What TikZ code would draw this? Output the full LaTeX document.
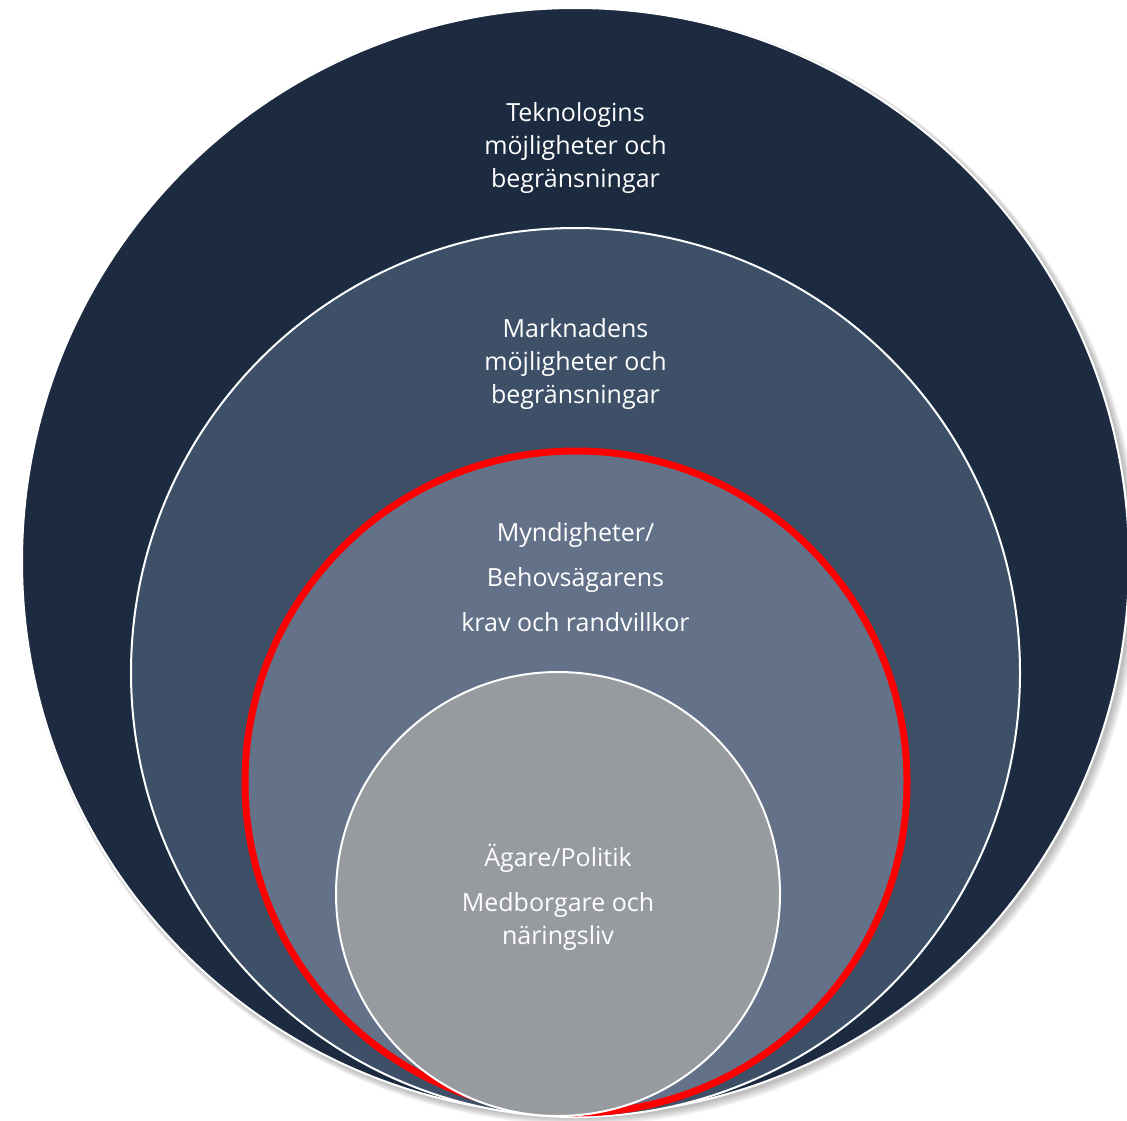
\documentclass[tikz,border=0pt]{standalone}
\usepackage{fontspec}
\setmainfont{Open Sans}
\definecolor{ringA}{HTML}{1D2B40}
\definecolor{ringB}{HTML}{3D5068}
\definecolor{ringC}{HTML}{637289}
\definecolor{ringD}{HTML}{979A9F}
\definecolor{ringred}{HTML}{FF0000}
\tikzset{
  ring/.style={circle, inner sep=0pt, draw=white, line width=2pt},
  lbl/.style={text=white, align=center, font={\fontsize{25}{33}\selectfont}},
}
\begin{document}
\begin{tikzpicture}[x=1pt,y=-1pt]
\useasboundingbox (0,0) rectangle (1127,1121);
\clip (0,0) rectangle (1127,1121);
% shadow
\foreach \i in {1,...,8}{
  \fill[black, opacity=0.035] (577.5+0.4*\i,563.5+0.4*\i) circle[radius={(553.5+0.6*\i)*1pt}];
}
\node[ring, fill=ringA, minimum size=1107pt] (outer) at (575.5,561.5) {};
\node[ring, fill=ringB, minimum size=889pt] (market) at (575.5,672.5) {};
\node[circle, inner sep=0pt, fill=ringC, draw=ringred, line width=7pt, minimum size=662pt] (auth) at (576,782) {};
\node[ring, fill=ringD, minimum size=444pt] (owner) at (558,894) {};
\node[lbl] (t1) at (575.5,148) {Teknologins\\möjligheter och\\begränsningar};
\node[lbl] (t2) at (575.5,364) {Marknadens\\möjligheter och\\begränsningar};
\node[lbl] (t3) at (575.5,577) {Myndigheter/\\[12pt]Behovsägarens\\[12pt]krav och randvillkor};
\node[lbl] (t4) at (558,897) {Ägare/Politik\\[12pt]Medborgare och\\näringsliv};
\end{tikzpicture}
\end{document}
